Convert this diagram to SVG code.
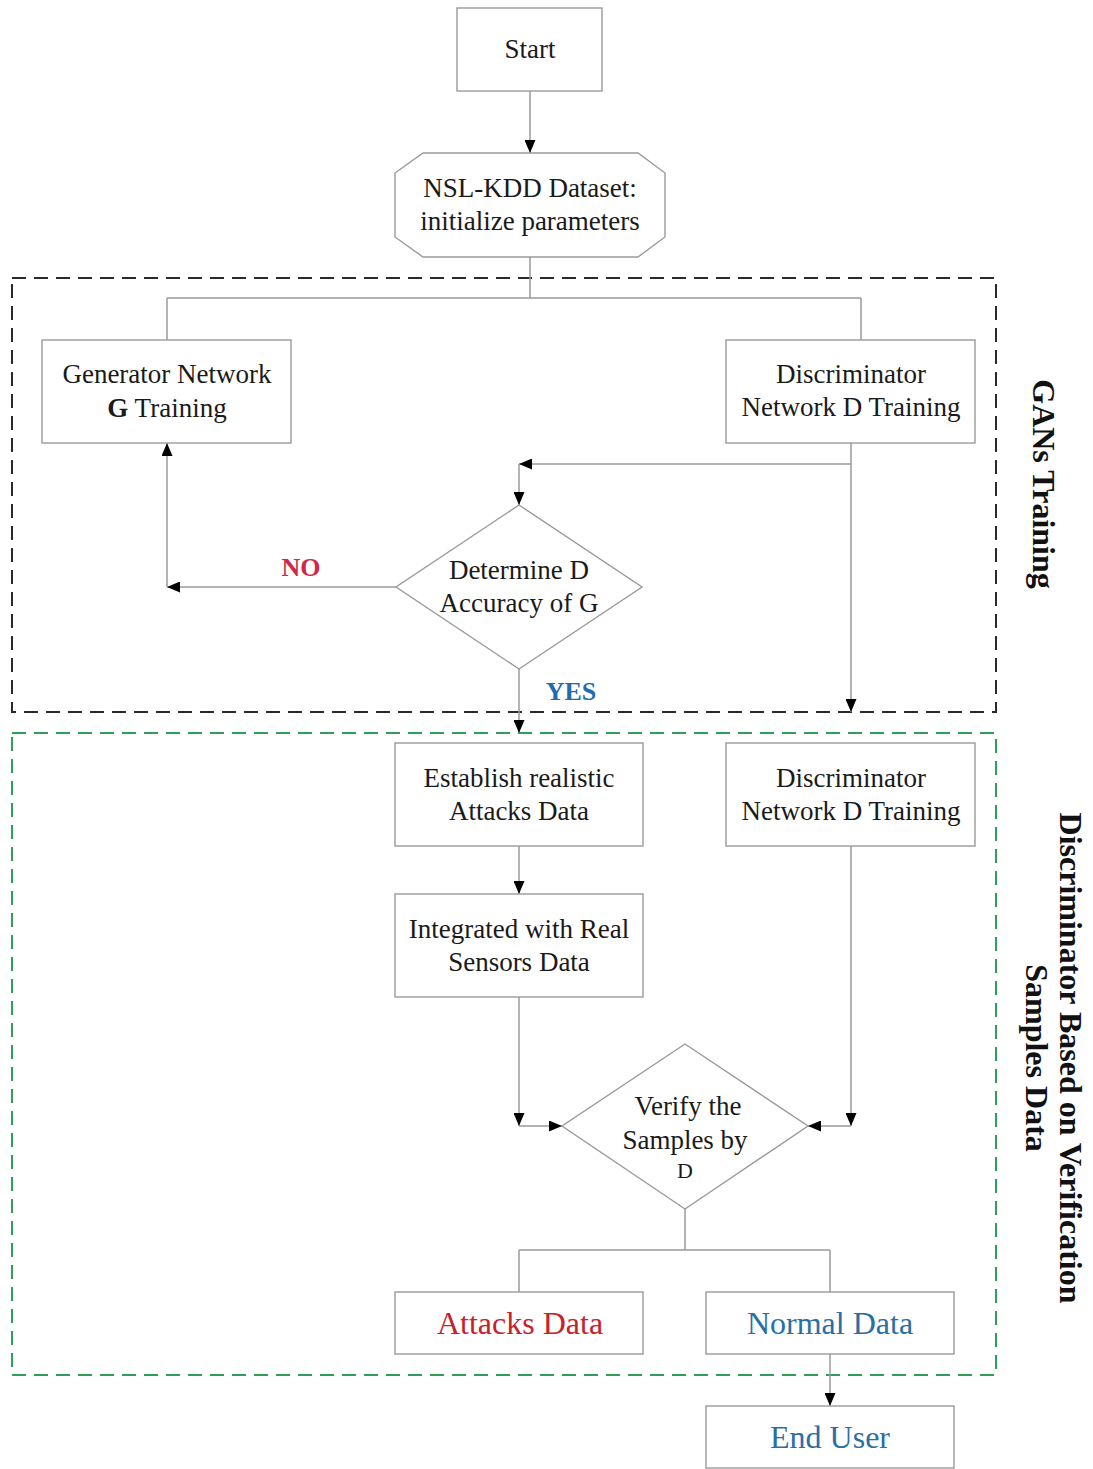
<svg xmlns="http://www.w3.org/2000/svg" width="1093" height="1469" viewBox="0 0 1093 1469">
  <style>
    .box { fill: #ffffff; stroke: #9a9a9a; stroke-width: 1.4; }
    .lbl { font-family: "Liberation Serif", "Times New Roman", serif; font-size: 27px; fill: #1a1a1a; text-anchor: middle; }
    .big { font-size: 32px; }
    .red { fill: #c8202c; }
    .blue { fill: #2a6ea6; }
    .side { font-family: "Liberation Serif", "Times New Roman", serif; font-size: 32px; font-weight: bold; fill: #111; text-anchor: middle; }
    .cond { font-family: "Liberation Serif", "Times New Roman", serif; font-size: 26px; font-weight: bold; text-anchor: middle; }
    .wire { fill: none; stroke: #9a9a9a; stroke-width: 1.5; }
    .arrow { marker-end: url(#head); }
    .zone-gan { fill: none; stroke: #2a2a2a; stroke-width: 2; stroke-dasharray: 14 8; }
    .zone-ver { fill: none; stroke: #2e9e58; stroke-width: 2; stroke-dasharray: 14 8; }
  </style>
  <defs>
    <marker id="head" markerUnits="userSpaceOnUse" markerWidth="13" markerHeight="11" refX="13" refY="5.5" orient="auto">
      <path d="M0,0 L13,5.5 L0,11 z" fill="#000"/>
    </marker>
  </defs>

  <rect width="1093" height="1469" fill="#ffffff"/>

  <!-- dashed stage frames -->
  <g id="stages">
    <rect class="zone-gan" x="12" y="278" width="984" height="434"/>
    <rect class="zone-ver" x="12" y="733" width="984" height="642"/>
    <text class="side" transform="translate(1033,484) rotate(90)">GANs Training</text>
    <text class="side" transform="translate(1060,1058) rotate(90)">Discriminator Based on Verification</text>
    <text class="side" transform="translate(1026,1058) rotate(90)">Samples Data</text>
  </g>

  <!-- connectors -->
  <g id="connectors">
    <path class="wire arrow" d="M530,91 V153"/>
    <path class="wire" d="M530,257 V298 M167,298 H861 M167,298 V340 M861,298 V340"/>
    <path class="wire arrow" d="M851,443 V712"/>
    <path class="wire arrow" d="M851,464 H519"/>
    <path class="wire arrow" d="M519,464 V505"/>
    <path class="wire arrow" d="M396,587 H167"/>
    <path class="wire arrow" d="M167,587 V443"/>
    <path class="wire arrow" d="M519,669 V733"/>
    <path class="wire arrow" d="M519,846 V894"/>
    <path class="wire arrow" d="M519,997 V1126"/>
    <path class="wire arrow" d="M519,1126 H562"/>
    <path class="wire arrow" d="M851,846 V1126"/>
    <path class="wire arrow" d="M851,1126 H808"/>
    <path class="wire" d="M685,1209 V1250 M519,1250 H830 M519,1250 V1292 M830,1250 V1292"/>
    <path class="wire arrow" d="M830,1354 V1406"/>
    <text class="cond" x="301" y="576" fill="#d0284c">NO</text>
    <text class="cond" x="571" y="700" fill="#1f6cb0">YES</text>
  </g>

  <!-- nodes -->
  <g id="start">
    <rect class="box" x="457" y="8" width="145" height="83"/>
    <text class="lbl" x="530" y="58">Start</text>
  </g>

  <g id="dataset">
    <polygon class="box" points="423,153 638,153 665,173 665,237 638,257 423,257 395,237 395,173"/>
    <text class="lbl" x="530" y="197">NSL-KDD Dataset:</text>
    <text class="lbl" x="530" y="230">initialize parameters</text>
  </g>

  <g id="generator">
    <rect class="box" x="42" y="340" width="249" height="103"/>
    <text class="lbl" x="167" y="383">Generator Network</text>
    <text class="lbl" x="167" y="417"><tspan font-weight="bold">G</tspan> Training</text>
  </g>

  <g id="discriminator">
    <rect class="box" x="726" y="340" width="249" height="103"/>
    <text class="lbl" x="851" y="383">Discriminator</text>
    <text class="lbl" x="851" y="416">Network D Training</text>
  </g>

  <g id="accuracy">
    <polygon class="box" points="519,505 642,587 519,669 396,587"/>
    <text class="lbl" x="519" y="579">Determine D</text>
    <text class="lbl" x="519" y="612">Accuracy of G</text>
  </g>

  <g id="establish">
    <rect class="box" x="395" y="743" width="248" height="103"/>
    <text class="lbl" x="519" y="787">Establish realistic</text>
    <text class="lbl" x="519" y="820">Attacks Data</text>
  </g>

  <g id="discriminator-2">
    <rect class="box" x="726" y="743" width="249" height="103"/>
    <text class="lbl" x="851" y="787">Discriminator</text>
    <text class="lbl" x="851" y="820">Network D Training</text>
  </g>

  <g id="integrated">
    <rect class="box" x="395" y="894" width="248" height="103"/>
    <text class="lbl" x="519" y="938">Integrated with Real</text>
    <text class="lbl" x="519" y="971">Sensors Data</text>
  </g>

  <g id="verify">
    <polygon class="box" points="685,1044 808,1126 685,1209 562,1126"/>
    <text class="lbl" x="688" y="1115">Verify the</text>
    <text class="lbl" x="685" y="1149">Samples by</text>
    <text class="lbl" x="685" y="1178" style="font-size:22px">D</text>
  </g>

  <g id="attacks">
    <rect class="box" x="395" y="1292" width="248" height="62"/>
    <text class="lbl big red" x="520" y="1334">Attacks Data</text>
  </g>

  <g id="normal">
    <rect class="box" x="706" y="1292" width="248" height="62"/>
    <text class="lbl big blue" x="830" y="1334">Normal Data</text>
  </g>

  <g id="end-user">
    <rect class="box" x="706" y="1406" width="248" height="62"/>
    <text class="lbl big blue" x="830" y="1448">End User</text>
  </g>
</svg>
